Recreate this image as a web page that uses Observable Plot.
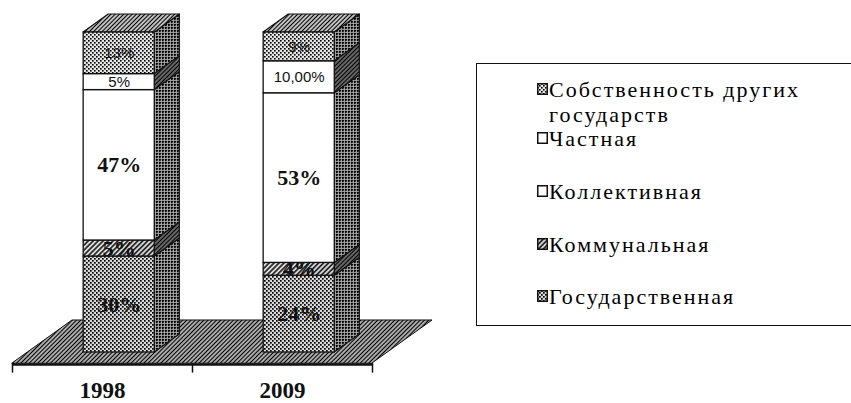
<!DOCTYPE html>
<html><head><meta charset="utf-8">
<script src="https://cdn.jsdelivr.net/npm/d3@7"></script>
<script src="https://cdn.jsdelivr.net/npm/@observablehq/plot@0.6"></script>
<style>
body{margin:0;background:#fff;overflow:hidden}
#wrap{position:relative;width:851px;height:403px;overflow:hidden;background:#fff}
#legend{position:absolute;left:476px;top:63px;width:420px;height:263px;border:1.5px solid #111;box-sizing:border-box;font-family:"Liberation Serif","DejaVu Serif",serif;font-size:22px;letter-spacing:2px;color:#000}
.txt{position:absolute;left:72px;white-space:pre-line;line-height:25px}
.sw{position:absolute;left:60px}
</style></head><body>
<div id="wrap"><div id="chart"></div><div id="legend"></div></div>
<script>
// ---- data ----
const years = ["1998", "2009"];
const categories = ["Государственная", "Коммунальная", "Коллективная", "Частная", "Собственность других государств"];
const values1998 = [30, 5, 47, 5, 13];
const values2009 = [24, 4, 53, 10, 9];
const labels1998 = ["30%", "5%", "47%", "5%", "13%"];
const labels2009 = ["24%", "4%", "53%", "10,00%", "9%"];

// ---- styles ----
const frontFill = ["url(#pGos)", "url(#pKom)", "#fff", "#fff", "url(#pSob)"];
const sideFill = ["url(#pSide)", "url(#pSideH)", "url(#pSide)", "url(#pSideH)", "url(#pSide)"];
const DX = 1 / 3, DY = 13.44, D0 = 0.256, D1 = 0.674, BAR_L = 0.31, BAR_R = 0.705;

const series = [values1998, values2009];
const labelSets = [labels1998, labels2009];
const segs = [];
years.forEach((yr, i) => {
  let cum = 0;
  categories.forEach((c, k) => {
    const v = series[i][k];
    segs.push({id: yr + "-" + k, i, k, cat: c, y0: cum, y1: cum + v, label: labelSets[i][k]});
    cum += v;
  });
});
const sidePts = segs.flatMap(s => [D0, D1].map(d => ({id: s.id, k: s.k, x: s.i + BAR_R + d * DX, lo: s.y0 + d * DY, hi: s.y1 + d * DY})));
const topPts = years.flatMap((yr, i) => [D0, D1].map(d => ({id: yr, y: 100 + d * DY, lo: i + BAR_L + d * DX, hi: i + BAR_R + d * DX})));
const floorPts = [0, 1].map(d => ({y: d * DY, lo: d * DX, hi: years.length + d * DX}));
const n = years.length;

const svg = Plot.plot({
  width: 851, height: 403,
  marginLeft: 12, marginRight: 479, marginTop: 11, marginBottom: 40,
  x: {domain: [0, n], axis: null},
  y: {domain: [0, 110], axis: null},
  color: {type: "identity"},
  style: {background: "transparent", overflow: "visible"},
  marks: [
    Plot.areaX(floorPts, {y: "y", x1: "lo", x2: "hi", fill: "url(#pFloor)", stroke: "#111", strokeWidth: 1}),
    Plot.ruleY([0], {x1: 0, x2: n, stroke: "#111", strokeWidth: 2.5, dy: 1}),
    Plot.ruleX(d3.range(n + 1), {y1: 0, y2: -3, stroke: "#111", strokeWidth: 1.5}),
    Plot.areaY(sidePts, {x: "x", y1: "lo", y2: "hi", z: "id", fill: d => sideFill[d.k], stroke: "#111", strokeWidth: 1.2}),
    Plot.areaX(topPts, {y: "y", x1: "lo", x2: "hi", z: "id", fill: "url(#pTop)", stroke: "#111", strokeWidth: 1.2}),
    Plot.rect(segs, {x1: d => d.i + BAR_L + D0 * DX, x2: d => d.i + BAR_R + D0 * DX, y1: d => d.y0 + D0 * DY, y2: d => d.y1 + D0 * DY, fill: d => frontFill[d.k], stroke: "#111", strokeWidth: 1.3}),
    Plot.text(segs.filter(d => d.k < 3), {x: d => d.i + (BAR_L + BAR_R) / 2 + D0 * DX, y: d => (d.y0 + d.y1) / 2 + D0 * DY, text: "label", fontSize: 22, fontWeight: "bold", fontFamily: "Liberation Serif, DejaVu Serif, serif", fill: "#111"}),
    Plot.text(segs.filter(d => d.k >= 3), {x: d => d.i + (BAR_L + BAR_R) / 2 + D0 * DX, y: d => (d.y0 + d.y1) / 2 + D0 * DY, text: "label", fontSize: 15, fontFamily: "Liberation Sans, Arial, sans-serif", fill: "#111"}),
    Plot.text(years, {x: (d, i) => i + 0.5, y: 0, dy: 27, text: d => d, fontSize: 23, fontWeight: "bold", fontFamily: "Liberation Serif, DejaVu Serif, serif", fill: "#111"})
  ]
});

// ---- patterns ----
const defs = d3.select(svg).insert("defs", ":first-child");
function dots(id, size, bg, rects) {
  const p = defs.append("pattern").attr("id", id).attr("patternUnits", "userSpaceOnUse").attr("width", size).attr("height", size);
  p.append("rect").attr("width", size).attr("height", size).attr("fill", bg);
  rects.forEach(([x, y, w, c]) => p.append("rect").attr("x", x).attr("y", y).attr("width", w).attr("height", w).attr("fill", c || "#000"));
}
function hatch(id, size, bg, sw, angle, color) {
  const p = defs.append("pattern").attr("id", id).attr("patternUnits", "userSpaceOnUse").attr("width", size).attr("height", size).attr("patternTransform", `rotate(${angle})`);
  p.append("rect").attr("width", size).attr("height", size).attr("fill", bg);
  p.append("line").attr("x1", size / 2).attr("x2", size / 2).attr("y1", 0).attr("y2", size).attr("stroke", color || "#000").attr("stroke-width", sw);
}
dots("pGos", 4, "#d8d8d8", [[0, 0, 1.7], [2, 2, 1.7]]);
dots("pSob", 4, "#e4e4e4", [[0, 0, 1.6], [2, 2, 1.6]]);
hatch("pKom", 3.5, "#d8d8d8", 1.4, 45);
dots("pSide", 3, "#8a8a8a", [[0, 0, 1.9], [1.6, 1.6, 0.9, "#fff"]]);
hatch("pSideH", 3, "#888", 1.5, 45);
hatch("pTop", 3, "#fff", 1.5, 45);
hatch("pFloor", 3, "#c8c8c8", 1.3, 45);

document.getElementById("chart").appendChild(svg);

// ---- legend ----
const legend = d3.select("#legend");
const legendFill = {"Государственная": "url(#pGos)", "Коммунальная": "url(#pKom)", "Коллективная": "#fff", "Частная": "#fff", "Собственность других государств": "url(#pSob)"};
const rowCenters = [25, 74, 127, 180, 232];
categories.slice().reverse().forEach((c, j) => {
  const cy = rowCenters[j];
  const sw = legend.append("svg").attr("class", "sw").attr("width", 11).attr("height", 12).style("top", (cy - 6) + "px");
  sw.append("rect").attr("x", 0.75).attr("y", 0.75).attr("width", 9.5).attr("height", 10.5).attr("fill", legendFill[c]).attr("stroke", "#111").attr("stroke-width", 1.5);
  legend.append("div").attr("class", "txt").style("top", (cy - 12.5) + "px").text(c.replace("других ", "других\n"));
});
</script>
</body></html>
